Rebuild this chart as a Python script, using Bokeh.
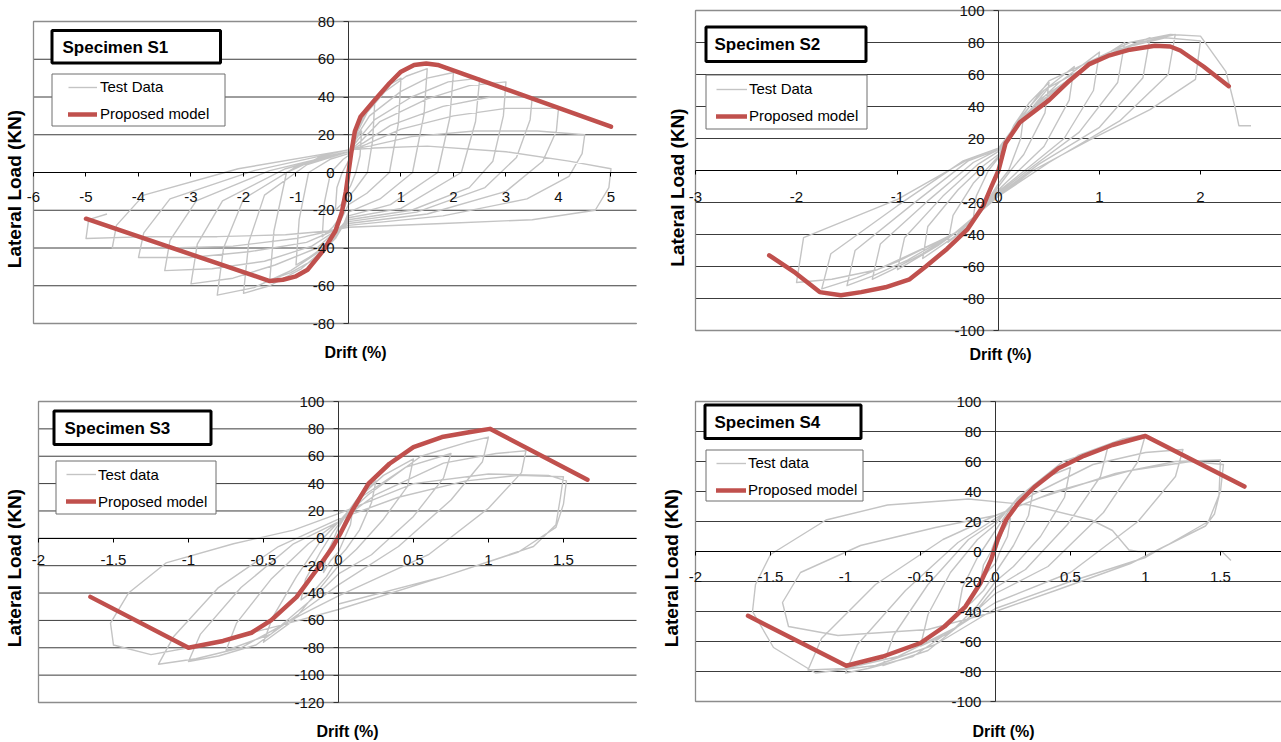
from math import pi

from bokeh.embed import file_html
from bokeh.layouts import column, row
from bokeh.models import BoxAnnotation, FixedTicker, Label, Legend, LegendItem, LinearAxis
from bokeh.plotting import figure
from bokeh.resources import INLINE

# ---------------------------------------------------------------------------
# Specimen S1 : cyclic test record (drift %, lateral load kN)
# ---------------------------------------------------------------------------
s1_drift = [
    0, 0.05, 0.13, 0.25, 0.22, 0.14, 0.04,
    -0.06, -0.14, -0.25, -0.22, -0.12, 0,
    0.1, 0.26, 0.5, 0.46, 0.36, 0.12, 0,
    -0.14, -0.3, -0.5, -0.46, -0.34, -0.1, 0,
    0.18, 0.45, 0.75, 1.0, 0.95, 0.78, 0.35, 0,
    -0.18, -0.45, -0.75, -1.0, -0.94, -0.76, -0.35, 0,
    0.12, 0.3, 0.7, 1.1, 1.5, 1.44, 1.22, 0.6, 0,
    -0.1, -0.25, -0.65, -1.1, -1.5, -1.42, -1.18, -0.55, 0,
    0.15, 0.4, 1.0, 1.5, 2.0, 1.93, 1.7, 0.8, 0,
    -0.12, -0.35, -0.9, -1.5, -2.0, -1.9, -1.6, -0.8, 0,
    0.2, 0.5, 1.2, 1.9, 2.5, 2.42, 2.15, 1.0, 0,
    -0.15, -0.45, -1.1, -1.8, -2.5, -2.38, -2.0, -1.0, 0,
    0.25, 0.6, 1.5, 2.3, 3.0, 2.95, 2.75, 2.3, 1.2, 0,
    -0.2, -0.6, -1.4, -2.2, -3.0, -2.88, -2.4, -1.2, 0,
    0.3, 0.8, 1.8, 2.7, 3.5, 3.46, 3.2, 2.6, 1.3, 0,
    -0.25, -0.7, -1.6, -2.6, -3.5, -3.4, -2.9, -1.5, 0,
    0.35, 1.0, 2.0, 3.0, 4.0, 3.96, 3.7, 3.0, 1.5, 0,
    -0.3, -0.8, -1.9, -3.0, -4.0, -3.9, -3.4, -1.8, 0,
    0.4, 1.2, 2.4, 3.6, 4.5, 4.45, 4.2, 3.4, 1.8, 0,
    -0.35, -1.0, -2.2, -3.4, -4.5, -4.42, -3.9, -2.1, 0,
    0.5, 1.5, 3.0, 4.2, 5.0, 4.96, 4.7, 3.5, 1.8, 0,
    -0.4, -1.2, -2.5, -3.8, -5.0, -4.95, -4.6,
]
s1_load = [
    0, 9, 17, 22, 9, 0, -7,
    -12, -17, -20, -8, 0, 6,
    17, 29, 37, 17, 0, -9, -13,
    -23, -29, -34, -16, 0, 7, 9,
    22, 37, 46, 50, 26, 0, -11, -17,
    -27, -39, -45, -49, -25, 0, 7, 10,
    20, 30, 43, 51, 55, 31, 0, -14, -21,
    -28, -35, -46, -53, -57, -31, 0, 8, 11,
    19, 30, 43, 50, 53, 29, 0, -17, -23,
    -29, -38, -51, -60, -64, -37, -12, 4, 11,
    18, 28, 40, 48, 50, 27, 0, -19, -24,
    -29, -40, -52, -61, -65, -40, -14, 3, 11,
    17, 27, 39, 46, 48, 30, 6, -8, -20, -25,
    -30, -40, -49, -56, -59, -38, -15, 2, 11,
    16, 25, 35, 40, 40, 28, 8, -8, -21, -26,
    -31, -39, -47, -51, -52, -36, -15, 1, 11,
    15, 23, 30, 34, 34, 22, 6, -10, -22, -27,
    -31, -37, -42, -45, -45, -32, -14, 1, 12,
    14, 19, 22, 22, 20, 10, -2, -14, -23, -28,
    -31, -35, -39, -40, -40, -28, -12, 2, 12,
    13, 14, 11, 6, 2, -8, -20, -25, -27, -29,
    -31, -33, -34, -34, -35, -25, -22,
]
m1_drift = [-5.0, -1.5, -1.25, -1.0, -0.78, -0.47, -0.25, -0.13, -0.05, 0.0,
            0.05, 0.12, 0.23, 0.5, 0.78, 1.0, 1.25, 1.48, 1.7, 5.0]
m1_load = [-24.5, -57.5, -56.8, -55.0, -51.5, -41.0, -31.0, -21.5, -10.0, 0.0,
           10.0, 21.7, 29.6, 38.4, 47.3, 53.4, 57.0, 57.8, 57.0, 24.3]
s1_xticks = [-6, -5, -4, -3, -2, -1, 0, 1, 2, 3, 4, 5]
s1_yticks = [-80, -60, -40, -20, 0, 20, 40, 60, 80]

# ---------------------------------------------------------------------------
# Specimen S2
# ---------------------------------------------------------------------------
s2_drift = [
    0, 0.08, 0.25, 0.22, 0.1, 0,
    -0.1, -0.25, -0.22, -0.1, 0,
    0.15, 0.3, 0.5, 0.46, 0.25, 0.12, 0,
    -0.15, -0.3, -0.5, -0.45, -0.25, -0.1, 0,
    0.2, 0.45, 0.75, 0.7, 0.45, 0.2, 0,
    -0.2, -0.45, -0.75, -0.7, -0.4, -0.15, 0,
    0.25, 0.6, 1.0, 0.94, 0.65, 0.3, 0,
    -0.25, -0.6, -1.0, -0.93, -0.55, -0.2, 0,
    0.3, 0.75, 1.05, 1.25, 1.18, 0.8, 0.35, 0,
    -0.3, -0.75, -1.05, -1.25, -1.17, -0.7, -0.25, 0,
    0.35, 0.9, 1.25, 1.5, 1.43, 1.0, 0.4, 0,
    -0.35, -0.9, -1.25, -1.5, -1.42, -0.85, -0.3, 0,
    0.4, 1.0, 1.4, 1.75, 1.68, 1.2, 0.5, 0,
    -0.4, -1.0, -1.4, -1.75, -1.66, -1.0, -0.35, 0,
    0.5, 1.2, 1.65, 2.0, 1.95, 1.5, 0.9, 0.34, 0,
    -0.45, -1.2, -1.65, -2.0, -1.93, -1.0, -0.3, 0,
    0.5, 1.3, 1.7, 2.0, 2.25, 2.3, 2.34, 2.38, 2.5,
]
s2_load = [
    0, 18, 35, 20, 0, -8,
    -18, -30, -16, 0, 8,
    28, 42, 55, 36, 10, 0, -10,
    -24, -35, -45, -28, -8, 2, 9,
    32, 50, 65, 44, 15, 0, -12,
    -28, -42, -55, -35, -12, 3, 10,
    34, 55, 74, 50, 20, 2, -13,
    -31, -47, -62, -42, -16, 4, 12,
    36, 60, 72, 80, 55, 24, 3, -14,
    -34, -52, -62, -68, -46, -19, 5, 13,
    40, 66, 77, 83, 58, 27, 4, -15,
    -36, -56, -66, -72, -50, -21, 6, 13,
    44, 70, 80, 85, 60, 31, 5, -16,
    -38, -57, -67, -74, -52, -22, 6, 14,
    52, 76, 83, 81, 57, 38, 19, 0, -16,
    -40, -62, -68, -70, -42, -18, 7, 14,
    56, 80, 85, 84, 62, 50, 40, 28, 28,
]
m2_drift = [-2.27, -2.01, -1.77, -1.56, -1.36, -1.12, -0.88, -0.72, -0.51, -0.31,
            -0.15, -0.07, 0.0, 0.07, 0.21, 0.5, 0.7, 0.9, 1.1, 1.3, 1.55, 1.7,
            1.8, 2.03, 2.28]
m2_load = [-53, -64, -76, -78, -76, -73, -68, -60, -49, -37,
           -22, -10, 0, 17, 30, 44, 56, 66.5, 72, 75.5, 78, 77.5,
           75, 65, 52.7]
s2_xticks = [-3, -2, -1, 0, 1, 2]
s2_yticks = [-100, -80, -60, -40, -20, 0, 20, 40, 60, 80, 100]

# ---------------------------------------------------------------------------
# Specimen S3
# ---------------------------------------------------------------------------
s3_drift = [
    0, 0.04, 0.1, 0.08, 0.04, 0,
    -0.05, -0.1, -0.08, -0.03, 0,
    0.08, 0.16, 0.25, 0.22, 0.14, 0.05, 0,
    -0.08, -0.16, -0.25, -0.22, -0.12, -0.04, 0,
    0.12, 0.3, 0.5, 0.46, 0.3, 0.12, 0,
    -0.12, -0.3, -0.5, -0.44, -0.28, -0.12, 0,
    0.15, 0.45, 0.75, 0.7, 0.5, 0.22, 0,
    -0.15, -0.45, -0.75, -0.68, -0.45, -0.2, 0,
    0.2, 0.55, 0.85, 1.0, 0.96, 0.75, 0.4, 0,
    -0.2, -0.55, -0.8, -1.0, -0.92, -0.65, -0.3, 0,
    0.25, 0.7, 1.05, 1.25, 1.22, 1.0, 0.6, 0,
    -0.25, -0.65, -0.95, -1.2, -1.1, -0.8, -0.4, 0,
    0.4, 0.85, 1.2, 1.5, 1.48, 1.45, 1.3, 0.7, 0,
    -0.4, -0.9, -1.25, -1.5, -1.52, -1.4, -1.15, -0.7, -0.3, 0,
    0.5, 1.0, 1.4, 1.52, 1.5, 1.45, 1.2, 0.7, 0,
]
s3_load = [
    0, 12, 25, 10, 0, -10,
    -16, -25, -12, 0, 8,
    22, 34, 42, 26, 6, -8, -14,
    -28, -38, -45, -30, -10, 4, 10,
    28, 46, 58, 38, 14, -8, -20,
    -36, -60, -76, -58, -28, -2, 12,
    30, 52, 62, 44, 16, -12, -26,
    -42, -70, -82, -62, -30, -4, 12,
    32, 60, 70, 74, 56, 28, -6, -34,
    -50, -78, -86, -90, -70, -36, -4, 12,
    32, 55, 62, 64, 48, 22, -12, -42,
    -56, -80, -88, -92, -72, -36, -6, 14,
    30, 42, 46, 45, 30, 10, -6, -28, -52,
    -64, -78, -85, -78, -62, -40, -18, -4, 6, 18,
    40, 47, 46, 42, 25, 8, -10, -28, -48,
]
m3_drift = [-1.654, -1.0, -0.77, -0.58, -0.45, -0.28, -0.15, -0.04, 0.01, 0.09,
            0.2, 0.34, 0.5, 0.69, 0.88, 1.01, 1.66]
m3_load = [-42.8, -80, -75, -69, -60, -43, -23.7, -6.6, 3, 20,
           40, 54.5, 66.7, 74, 77.7, 80, 42.8]
s3_xticks = [-2, -1.5, -1, -0.5, 0, 0.5, 1, 1.5]
s3_yticks = [-120, -100, -80, -60, -40, -20, 0, 20, 40, 60, 80, 100]

# ---------------------------------------------------------------------------
# Specimen S4
# ---------------------------------------------------------------------------
s4_drift = [
    0, 0.04, 0.1, 0.08, 0.03, 0,
    -0.04, -0.1, -0.08, -0.03, 0,
    0.08, 0.16, 0.25, 0.22, 0.12, 0.04, 0,
    -0.08, -0.16, -0.25, -0.22, -0.12, -0.04, 0,
    0.12, 0.3, 0.5, 0.46, 0.3, 0.12, 0,
    -0.12, -0.3, -0.5, -0.45, -0.3, -0.12, 0,
    0.15, 0.45, 0.75, 0.7, 0.48, 0.2, 0,
    -0.15, -0.45, -0.75, -0.68, -0.45, -0.18, 0,
    0.2, 0.55, 0.85, 1.0, 0.95, 0.72, 0.35, 0,
    -0.2, -0.55, -0.85, -1.0, -0.92, -0.6, -0.25, 0,
    0.25, 0.65, 1.0, 1.25, 1.2, 0.95, 0.5, 0,
    -0.25, -0.65, -1.0, -1.25, -1.16, -0.8, -0.35, 0,
    0.3, 0.8, 1.2, 1.5, 1.49, 1.46, 1.4, 0.9, 0.4, 0,
    -0.45, -1.05, -1.38, -1.42, -1.3, -0.9, -0.4, 0,
    0.4, 0.9, 1.3, 1.52, 1.5, 1.42, 1.0, 0.5, 0,
    -0.4, -0.8, -1.2, -1.48, -1.62, -1.6, -1.5,
    -1.13, -0.72, -0.18, 0.23, 0.64, 0.78, 0.89, 0.95, 1.51, 1.57,
]
s4_load = [
    0, 12, 22, 10, 0, -8,
    -12, -20, -9, 0, 8,
    24, 34, 40, 24, 4, -8, -14,
    -26, -34, -40, -24, -4, 8, 14,
    32, 48, 56, 36, 10, -10, -20,
    -36, -54, -63, -42, -14, 8, 18,
    36, 60, 70, 50, 18, -12, -24,
    -42, -66, -76, -56, -22, 8, 20,
    40, 64, 75, 78, 60, 26, -10, -28,
    -46, -70, -78, -81, -62, -26, 6, 22,
    38, 58, 66, 68, 50, 20, -14, -34,
    -50, -70, -78, -79, -58, -22, 8, 24,
    36, 52, 60, 61, 37, 25, 17, -8, -26, -40,
    -52, -56, -50, -34, -14, 4, 16, 24,
    40, 54, 60, 58, 40, 20, -4, -20, -38,
    -62, -76, -81, -64, -40, -22, -2,
    21, 31, 35, 31, 21, 14, 1, 0, 0, -6,
]
m4_drift = [-1.65, -0.995, -0.75, -0.5, -0.34, -0.2, -0.1, -0.03, 0.014, 0.07,
            0.15, 0.26, 0.42, 0.59, 0.78, 1.0, 1.66]
m4_load = [-42.9, -76.2, -70, -61, -50, -36.7, -21, -5.6, 7.8, 21,
           32, 43, 55.5, 63.8, 71, 77, 43.3]
s4_xticks = [-2, -1.5, -1, -0.5, 0, 0.5, 1, 1.5]
s4_yticks = [-100, -80, -60, -40, -20, 0, 20, 40, 60, 80, 100]

# ---------------------------------------------------------------------------
# Styling
# ---------------------------------------------------------------------------
FONT = "Liberation Sans"
TEST_GREY = "#c4c4c4"
MODEL_RED = "#c0504d"
GRID_COLOR = "#3c3c3c"
FRAME_COLOR = "#8c8c8c"
TEXT_COLOR = "#111111"

# Page layout of each panel: origin/size of the figure, plot-area margins
# (left, right, top, bottom) and page positions of the boxed captions.
PANELS = [
    dict(title="Specimen S1", test_label="Test Data",
         drift=s1_drift, load=s1_load, mdrift=m1_drift, mload=m1_load,
         xticks=s1_xticks, yticks=s1_yticks, xr=(-6, 5.486), yr=(-80, 80),
         origin=(0, 0), size=(640, 371), border=(33, 4, 21, 48), x_standoff=15,
         spec_box=(51.5, 30, 220, 62.5), spec_text=(62, 47),
         leg_box=(51.5, 73.5, 224.5, 125.5), leg_glyph=(68, 29, 3),
         leg_row=86.7, leg_spacing=7,
         ytitle=(13.5, 188.5), xtitle=(355, 352)),
    dict(title="Specimen S2", test_label="Test Data",
         drift=s2_drift, load=s2_load, mdrift=m2_drift, mload=m2_load,
         xticks=s2_xticks, yticks=s2_yticks, xr=(-3, 2.802), yr=(-100, 100),
         origin=(640, 0), size=(641, 371), border=(55, 0, 10, 41), x_standoff=17,
         spec_box=(705.5, 26.5, 865.5, 61), spec_text=(714, 44),
         leg_box=(705.5, 74.5, 866.5, 128.5), leg_glyph=(716, 31, 2),
         leg_row=88.5, leg_spacing=7,
         ytitle=(677, 187), xtitle=(1000, 354)),
    dict(title="Specimen S3", test_label="Test data",
         drift=s3_drift, load=s3_load, mdrift=m3_drift, mload=m3_load,
         xticks=s3_xticks, yticks=s3_yticks, xr=(-2, 1.987), yr=(-120, 100),
         origin=(0, 371), size=(640, 371), border=(38, 4, 30, 40), x_standoff=13,
         spec_box=(53.5, 410.5, 210.5, 444), spec_text=(64, 427.5),
         leg_box=(55.5, 460.5, 215.5, 513.5), leg_glyph=(66, 30, 2),
         leg_row=474, leg_spacing=7,
         ytitle=(13.5, 567.5), xtitle=(347, 731)),
    dict(title="Specimen S4", test_label="Test data",
         drift=s4_drift, load=s4_load, mdrift=m4_drift, mload=m4_load,
         xticks=s4_xticks, yticks=s4_yticks, xr=(-2, 1.907), yr=(-100, 100),
         origin=(640, 371), size=(641, 371), border=(55, 0, 30, 41), x_standoff=16,
         spec_box=(704.5, 404.5, 860.5, 438), spec_text=(714, 421.5),
         leg_box=(705.5, 449.5, 862.5, 500.5), leg_glyph=(716, 30, 2),
         leg_row=462.8, leg_spacing=7,
         ytitle=(671, 567.5), xtitle=(1003, 731)),
]


def tick_text(v):
    return str(int(v)) if float(v).is_integer() else str(v)


def scales(c):
    """Pixels per data unit along x and y for the panel's plot area."""
    w, h = c["size"]
    bl, br, bt, bb = c["border"]
    x0, x1 = c["xr"]
    y0, y1 = c["yr"]
    return (w - bl - br) / (x1 - x0), (h - bt - bb) / (y1 - y0)


def page_to_data(c, px, py):
    """Convert a page pixel position into the panel's data coordinates."""
    ox, oy = c["origin"]
    bl, br, bt, bb = c["border"]
    x0, x1 = c["xr"]
    y0, y1 = c["yr"]
    sx, sy = scales(c)
    return x0 + (px - ox - bl) / sx, y1 - (py - oy - bt) / sy


def build_panel(c):
    w, h = c["size"]
    bl, br, bt, bb = c["border"]
    ox, oy = c["origin"]
    x0, x1 = c["xr"]
    y0, y1 = c["yr"]
    sx, sy = scales(c)

    # The frame covers the whole figure; the plot area sits inside it so the
    # axis titles and edge tick labels are not clipped.
    p = figure(width=w, height=h,
               x_range=(x0 - bl / sx, x1 + br / sx),
               y_range=(y0 - bb / sy, y1 + bt / sy),
               x_axis_type=None, y_axis_type=None,
               toolbar_location=None, output_backend="svg",
               min_border=0, outline_line_color=None,
               background_fill_color="white", border_fill_color="white")
    p.title.visible = False

    # horizontal gridlines across the plot area
    yt = c["yticks"]
    p.segment(x0=[x0] * len(yt), y0=yt, x1=[x1] * len(yt), y1=yt,
              line_color=GRID_COLOR, line_width=1)
    # plot-area border: left, top, bottom
    p.segment(x0=[x0, x0, x0], y0=[y0, y1, y0], x1=[x0, x1, x1], y1=[y1, y1, y0],
              line_color=FRAME_COLOR, line_width=1.3)

    # axes crossing at the origin
    xaxis = LinearAxis(fixed_location=0, bounds=(x0, x1),
                       ticker=FixedTicker(ticks=c["xticks"]),
                       major_label_overrides={t: tick_text(t) for t in c["xticks"]},
                       axis_line_color="#000000", axis_line_width=1,
                       major_tick_in=0, major_tick_out=4,
                       major_tick_line_color="#000000", minor_tick_line_color=None,
                       major_label_standoff=c["x_standoff"],
                       major_label_text_font=FONT, major_label_text_font_size="15px",
                       major_label_text_color=TEXT_COLOR)
    p.add_layout(xaxis, "below")
    yaxis = LinearAxis(fixed_location=0, bounds=(y0, y1),
                       ticker=FixedTicker(ticks=yt),
                       major_label_overrides={t: tick_text(t) for t in yt},
                       axis_line_color="#333333", axis_line_width=1,
                       major_tick_in=0, major_tick_out=5,
                       major_tick_line_color="#333333", minor_tick_line_color=None,
                       major_label_standoff=9,
                       major_label_text_font=FONT, major_label_text_font_size="15px",
                       major_label_text_color=TEXT_COLOR)
    p.add_layout(yaxis, "left")

    test = p.line(c["drift"], c["load"], line_color=TEST_GREY, line_width=1.4,
                  line_join="round")
    model = p.line(c["mdrift"], c["mload"], line_color=MODEL_RED, line_width=4.5,
                   line_join="round", line_cap="round")

    # caption box
    l, t, r, b = c["spec_box"]
    L, T = page_to_data(c, l, t)
    R, B = page_to_data(c, r, b)
    p.add_layout(BoxAnnotation(left=L, right=R, top=T, bottom=B,
                               fill_color="white", fill_alpha=1,
                               line_color="#000000", line_alpha=1, line_width=3))
    tx, ty = page_to_data(c, *c["spec_text"])
    p.add_layout(Label(x=tx, y=ty, text=c["title"], text_font=FONT,
                       text_font_size="17px", text_font_style="bold",
                       text_color="#000000", text_align="left",
                       text_baseline="middle"))

    # legend box
    l, t, r, b = c["leg_box"]
    L, T = page_to_data(c, l, t)
    R, B = page_to_data(c, r, b)
    p.add_layout(BoxAnnotation(left=L, right=R, top=T, bottom=B,
                               fill_color="white", fill_alpha=1,
                               line_color="#6e6e6e", line_alpha=1, line_width=1))
    gx, gw, ls = c["leg_glyph"]
    row_h = 20
    legend_bottom = c["leg_row"] - row_h / 2 + 2 * row_h + c["leg_spacing"]
    legend = Legend(items=[LegendItem(label=c["test_label"], renderers=[test]),
                           LegendItem(label="Proposed model", renderers=[model])],
                    location=(gx - ox, oy + h - legend_bottom),
                    orientation="vertical", border_line_color=None,
                    background_fill_alpha=0, padding=0, margin=0,
                    spacing=c["leg_spacing"], glyph_width=gw,
                    glyph_height=row_h, label_height=row_h, label_standoff=ls,
                    label_text_font=FONT, label_text_font_size="15px",
                    label_text_color="#000000")
    p.add_layout(legend)

    # axis titles
    ax, ay = page_to_data(c, *c["ytitle"])
    p.add_layout(Label(x=ax, y=ay, text="Lateral Load (KN)", angle=pi / 2,
                       text_font=FONT, text_font_size="19px",
                       text_font_style="bold", text_color="#000000",
                       text_align="center", text_baseline="middle"))
    dx, dy = page_to_data(c, *c["xtitle"])
    p.add_layout(Label(x=dx, y=dy, text="Drift (%)", text_font=FONT,
                       text_font_size="16px", text_font_style="bold",
                       text_color="#000000", text_align="center",
                       text_baseline="middle"))
    return p


p1, p2, p3, p4 = (build_panel(c) for c in PANELS)
layout = column(row(p1, p2), row(p3, p4))

open("out.html", "w").write(file_html(layout, INLINE))
